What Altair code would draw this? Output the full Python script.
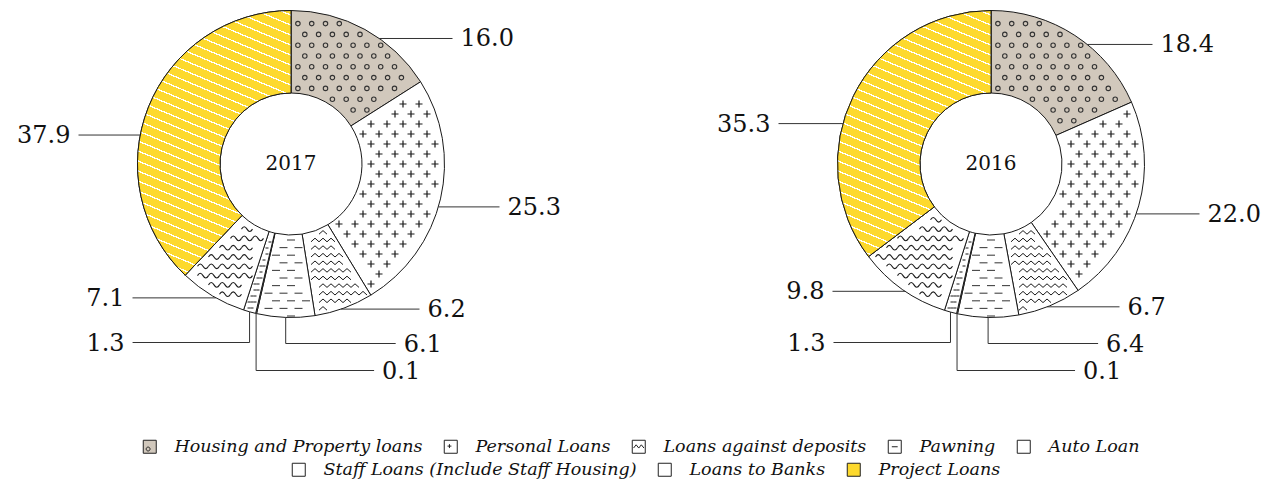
import math
import numpy as np
import pandas as pd
import altair as alt

# ---------------- data ----------------
categories = [
    "Housing and Property loans",
    "Personal Loans",
    "Loans against deposits",
    "Pawning",
    "Auto Loan",
    "Staff Loans (Include Staff Housing)",
    "Loans to Banks",
    "Project Loans",
]
values_2017 = [16.0, 25.3, 6.2, 6.1, 0.1, 1.3, 7.1, 37.9]
values_2016 = [18.4, 22.0, 6.7, 6.4, 0.1, 1.3, 9.8, 35.3]
years = ["2017", "2016"]

# ---------------- styles / layout ----------------
FONT = "DejaVu Serif"
fill_colors = ["#d1c8bc", "#ffffff", "#ffffff", "#ffffff", "#ffffff", "#ffffff", "#ffffff", "#fdd92d"]
YELLOW = "#fdd92d"
PANEL_W = [566, 560]
PANEL_H = 308
SPACING = 137
R_OUT = 153.5
R_IN = 71.0

pattern_styles = {
    "Housing and Property loans": dict(shape="circle", size=20, dx=13.8, dy=10.8, stagger=True, hw=2.7, hh=2.7, color="#333333", sw=1.1),
    "Personal Loans": dict(shape="M-1,0L1,0M0,-1L0,1", size=49, dx=16, dy=10, stagger=True, hw=3.5, hh=3.5, color="#1a1a1a", sw=1.2),
    "Loans against deposits": dict(shape="M-1,0.45L0,-0.45L1,0.45", size=64, dx=8, dy=7.6, stagger=False, hw=4, hh=1.9, color="#1a1a1a", sw=1.0),
    "Pawning": dict(shape="M-1,0L1,0", size=64, dx=15, dy=7.6, stagger=True, hw=4, hh=0.6, color="#444444", sw=1.1),
    "Staff Loans (Include Staff Housing)": dict(shape="M-1,0L1,0", size=9, dx=3, dy=6, stagger=False, hw=1.5, hh=0.5, color="#1a1a1a", sw=1.0),
    "Loans to Banks": dict(shape="M-1,0Q-0.5,-0.85,0,0T1,0", size=121, dx=11, dy=9.3, stagger=False, hw=5.5, hh=2.5, color="#1a1a1a", sw=1.1),
}

# leader-line layout: kind, side, nudge, reach
label_layout = {
    "Housing and Property loans": ("h", 1, 9, 8),
    "Personal Loans": ("h", 1, 8, 55),
    "Loans against deposits": ("h", 1, 1, -25),
    "Pawning": ("e", 1, 26, 110),
    "Auto Loan": ("e", 1, 53, 118),
    "Staff Loans (Include Staff Housing)": ("e", -1, 25, 117),
    "Loans to Banks": ("h", -1, 2, 5),
    "Project Loans": ("h", -1, 28, 59),
}

SQ = "M-1,-1L1,-1L1,1L-1,1Z"
legend_paths = [
    SQ + "M-0.55,0.35A0.3,0.3,0,1,1,0.05,0.35A0.3,0.3,0,1,1,-0.55,0.35Z",
    SQ + "M-0.5,-0.1L0.1,-0.1M-0.2,-0.4L-0.2,0.2",
    SQ + "M-0.8,0.2L-0.4,-0.3L0,0.2L0.4,-0.3L0.8,0.2",
    SQ + "M-0.45,0L0.45,0",
    SQ,
    SQ + "M-1,-1L1,1M1,-1L-1,1",
    SQ + "M-0.8,-0.2Q-0.4,-0.7,0,-0.2T0.8,-0.2M-0.8,0.4Q-0.4,-0.1,0,0.4T0.8,0.4",
    SQ,
]
row1 = categories[:5]
row2 = categories[5:]


def sector_df(values):
    v = np.array(values, dtype=float)
    t1 = np.cumsum(v)
    t0 = t1 - v
    return pd.DataFrame({"category": categories, "value": v, "t0": t0, "t1": t1})


def inside(px, py, a0, a1, pad=0.8):
    r = math.hypot(px, py)
    if r < R_IN + pad or r > R_OUT - pad:
        return False
    a = math.degrees(math.atan2(px, -py)) % 360
    m = math.degrees(pad / max(r, 1.0))
    return a0 + m <= a <= a1 - m


def glyph_points(a0, a1, st):
    pts = []
    dx, dy, hw, hh = st["dx"], st["dy"], st["hw"], st["hh"]
    nrows = int(R_OUT / dy) + 2
    ncols = int(R_OUT / dx) + 2
    for j in range(-nrows, nrows + 1):
        yy = j * dy
        off = dx / 2 if (st["stagger"] and j % 2) else 0.0
        for i in range(-ncols, ncols + 1):
            xx = i * dx + off
            checks = [(xx + sx * hw, yy + sy * hh) for sx in (-1, 0, 1) for sy in (-1, 0, 1)]
            if all(inside(px, py, a0, a1) for px, py in checks):
                pts.append({"x": xx, "y": yy})
    return pts


def stripe_gradient(a0, a1, slope=0.42, period=10.0, width=1.4):
    angs = list(np.linspace(a0, a1, 721)) + [c for c in (0, 90, 180, 270, 360) if a0 <= c <= a1]
    xs, ys = [], []
    for a in angs:
        ra = math.radians(a)
        for r in (R_IN, R_OUT):
            xs.append(r * math.sin(ra))
            ys.append(-r * math.cos(ra))
    wb = max(xs) - min(xs)
    hb = max(ys) - min(ys)
    s = slope
    Q = hb + s * wb
    k = Q / (s * s * wb * wb + hb * hb)
    stops = [{"offset": 0, "color": YELLOW}]
    q = 4.0
    while q + width < Q:
        o1 = q / Q
        o2 = (q + width) / Q
        stops += [
            {"offset": o1, "color": YELLOW},
            {"offset": o1, "color": "#ffffff"},
            {"offset": o2, "color": "#ffffff"},
            {"offset": o2, "color": YELLOW},
        ]
        q += period
    stops.append({"offset": 1, "color": YELLOW})
    return {"gradient": "linear", "x1": 1, "y1": 0, "x2": 1 - k * s * wb, "y2": k * hb, "stops": stops}


legend_common = dict(
    title=None,
    orient="none",
    direction="horizontal",
    gridAlign="none",
    symbolSize=169,
    symbolStrokeColor="#222222",
    symbolStrokeWidth=1,
    labelFont=FONT,
    labelFontStyle="italic",
    labelFontSize=17.5,
    labelColor="#111111",
    labelLimit=400,
    labelOffset=16,
    columnPadding=19,
    padding=0,
)
legend_a = alt.Legend(legendX=133, legendY=428, columns=5, values=row1, **legend_common)
legend_b = alt.Legend(legendX=282, legendY=451, columns=3, symbolType="square", **legend_common)

color_scale = alt.Scale(domain=categories, range=fill_colors)
shape_scale = alt.Scale(domain=categories, range=legend_paths)
fill_b_scale = alt.Scale(domain=row2, range=fill_colors[5:])
theta_scale = alt.Scale(domain=[0, 100], range=[0, 2 * math.pi])


def make_panel(year, values, width):
    df = sector_df(values)
    xs = alt.Scale(domain=[-width / 2, width / 2])
    ys = alt.Scale(domain=[-PANEL_H / 2, PANEL_H / 2], reverse=True)

    def X(f):
        return alt.X(f, scale=xs, axis=None)

    def Y(f):
        return alt.Y(f, scale=ys, axis=None)

    layers = []
    arcs = alt.Chart(df).mark_arc(
        innerRadius=R_IN, outerRadius=R_OUT, stroke="#1a1a1a", strokeWidth=1
    ).encode(
        theta=alt.Theta("t0:Q", scale=theta_scale, stack=None),
        theta2="t1:Q",
        color=alt.Color("category:N", scale=color_scale, legend=legend_a),
    )
    layers.append(arcs)

    # pattern glyphs
    for cat, st in pattern_styles.items():
        row = df[df["category"] == cat].iloc[0]
        a0, a1 = row["t0"] * 3.6, row["t1"] * 3.6
        pts = glyph_points(a0, a1, st)
        if not pts:
            continue
        layers.append(
            alt.Chart(pd.DataFrame(pts)).mark_point(
                shape=st["shape"], size=st["size"], filled=False, color=st["color"],
                strokeWidth=st["sw"], opacity=1,
            ).encode(x=X("x:Q"), y=Y("y:Q"))
        )

    # striped project slice
    prow = df[df["category"] == "Project Loans"].iloc[0]
    grad = stripe_gradient(prow["t0"] * 3.6, prow["t1"] * 3.6)
    layers.append(
        alt.Chart(df).transform_filter(alt.datum.category == "Project Loans").mark_arc(
            innerRadius=R_IN, outerRadius=R_OUT, fill=grad, stroke="#1a1a1a", strokeWidth=1
        ).encode(
            theta=alt.Theta("t0:Q", scale=theta_scale, stack=None),
            theta2="t1:Q",
        )
    )

    # leader lines + labels
    segs, labs = [], []
    for _, r in df.iterrows():
        kind, side, nudge, reach = label_layout[r["category"]]
        mid = math.radians((r["t0"] + r["t1"]) / 2 * 3.6)
        ax, ay = R_OUT * math.sin(mid), -R_OUT * math.cos(mid)
        if kind == "h":
            ly = ay + nudge
            sx = side * math.sqrt(max(R_OUT ** 2 - ly ** 2, 0))
            ex = side * (R_OUT + reach)
            segs.append({"x": sx, "y": ly, "x2": ex, "y2": ly})
        else:
            ly = R_OUT + nudge
            segs.append({"x": ax, "y": ay, "x2": ax, "y2": ly})
            ex = ax + side * reach
            segs.append({"x": ax, "y": ly, "x2": ex, "y2": ly})
        labs.append({"lx": ex + side * 8, "ly": ly, "label": f"{r['value']:.1f}", "side": "R" if side > 0 else "L"})

    layers.append(
        alt.Chart(pd.DataFrame(segs)).mark_rule(color="#333333", strokeWidth=1).encode(
            x=X("x:Q"), y=Y("y:Q"), x2="x2:Q", y2="y2:Q",
        )
    )
    labdf = pd.DataFrame(labs)
    for sd, al in (("R", "left"), ("L", "right")):
        layers.append(
            alt.Chart(labdf).transform_filter(alt.datum.side == sd).mark_text(
                align=al, baseline="middle", font=FONT, fontSize=24, color="#111111", dy=1
            ).encode(x=X("lx:Q"), y=Y("ly:Q"), text="label:N")
        )

    # centre year
    layers.append(
        alt.Chart(pd.DataFrame({"year": [year]})).mark_text(
            font=FONT, fontSize=20, color="#111111", baseline="middle"
        ).encode(text="year:N")
    )

    # legend carriers (zero-size points at the centre)
    carrier_a = df.assign(cx=0.0, cy=0.0)
    layers.append(
        alt.Chart(carrier_a).mark_point(size=0, filled=True, opacity=1, stroke="#222222", strokeWidth=1).encode(
            x=X("cx:Q"), y=Y("cy:Q"),
            shape=alt.Shape("category:N", scale=shape_scale, legend=legend_a),
            color=alt.Color("category:N", scale=color_scale, legend=legend_a),
        )
    )
    carrier_b = pd.DataFrame({"cat_b": row2, "cx": 0.0, "cy": 0.0})
    layers.append(
        alt.Chart(carrier_b).mark_point(size=0, filled=True, opacity=1, stroke="#222222", strokeWidth=1).encode(
            x=X("cx:Q"), y=Y("cy:Q"),
            fill=alt.Fill("cat_b:N", scale=fill_b_scale, legend=legend_b),
        )
    )

    return alt.layer(*layers).properties(width=width, height=PANEL_H)


p1 = make_panel(years[0], values_2017, PANEL_W[0])
p2 = make_panel(years[1], values_2016, PANEL_W[1])

chart = (
    alt.hconcat(p1, p2, spacing=SPACING)
    .properties(padding=0, background="white")
    .configure_view(stroke=None)
)

chart.save("out.html", embed_options={"renderer": "svg", "actions": False})
